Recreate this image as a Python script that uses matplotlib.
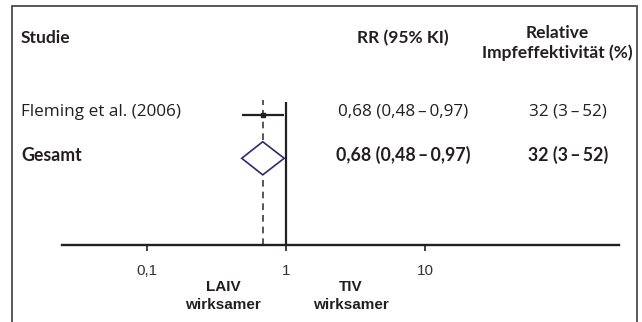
import matplotlib
matplotlib.use("Agg")
import matplotlib.pyplot as plt
from matplotlib.patches import Polygon, Rectangle

# data
studies = ["Fleming et al. (2006)"]
study_rr = [0.68]
study_lo = [0.48]
study_hi = [0.97]
study_rr_text = ["0,68 (0,48\u2009\u2013\u20090,97)"]
study_eff_text = ["32 (3\u2009\u2013\u200952)"]

pooled_label = "Gesamt"
pooled_rr = 0.68
pooled_lo = 0.48
pooled_hi = 0.97
pooled_rr_text = "0,68 (0,48\u2009\u2013\u20090,97)"
pooled_eff_text = "32 (3\u2009\u2013\u200952)"

tick_values = [0.1, 1, 10]
tick_labels = ["0,1", "1", "10"]

W, H = 642, 322
TABLE_FONT = ["Open Sans", "DejaVu Sans"]
HEAD_FONT = ["Lato", "DejaVu Sans"]
AXIS_FONT = ["Liberation Sans", "DejaVu Sans"]
INK = "#231f20"


def fx(px):
    return px / W


def fy(py):
    # pixel measured from the top
    return 1 - py / H


fig = plt.figure(figsize=(W / 100, H / 100), dpi=100)

# outer frame (runs off the bottom edge)
fig.patches.append(Rectangle((fx(12), fy(340)), fx(637) - fx(12), fy(6) - fy(340),
                             transform=fig.transFigure, fill=False,
                             edgecolor="#4a4a4a", linewidth=1.3))

# forest plot axes
ax = fig.add_axes([fx(62), fy(245), fx(619) - fx(62), fy(100) - fy(245)])
ax.set_xscale("log")
ax.set_xlim(10 ** -1.612, 10 ** 2.396)
ax.set_ylim(-0.989, 2.337)
ax.patch.set_alpha(0)
for side in ["top", "right", "left"]:
    ax.spines[side].set_visible(False)
ax.spines["bottom"].set_linewidth(1.7)
ax.spines["bottom"].set_color(INK)
ax.set_yticks([])
ax.set_xticks(tick_values)
ax.set_xticklabels(tick_labels)
ax.minorticks_off()
ax.tick_params(axis="x", length=4, width=1.2, color=INK, pad=10,
               labelsize=11, labelcolor="#333333")
for lab in ax.get_xticklabels():
    lab.set_family(AXIS_FONT)

# line of no effect and pooled estimate
ax.plot([1, 1], [-0.989, 2.29], color=INK, linewidth=1.6, solid_capstyle="butt")
ax.plot([pooled_rr, pooled_rr], [-0.989, 2.337], color="#3a3a3a", linewidth=1.2,
        linestyle=(0, (4, 3)))

# study rows
for i, (rr, lo, hi) in enumerate(zip(study_rr, study_lo, study_hi)):
    y = 2 - i
    ax.plot([lo, hi], [y, y], color=INK, linewidth=1.6, solid_capstyle="butt")
    ax.plot([rr], [y], marker="s", markersize=2.5, color=INK)

# pooled diamond
dh = 0.38
ax.add_patch(Polygon([(pooled_lo, 1), (pooled_rr, 1 + dh), (pooled_hi, 1), (pooled_rr, 1 - dh)],
                     closed=True, facecolor="white", edgecolor="#2e2b6b",
                     linewidth=1.2, zorder=3))

HEAD = 12.5
BODY = 12.3
BOLD = 12.8

# table header
fig.text(fx(21), fy(38), "Studie", fontsize=HEAD, fontweight="bold", family=HEAD_FONT,
         color=INK, va="center", ha="left")
fig.text(fx(403), fy(38), "RR (95% KI)", fontsize=HEAD, fontweight="bold", family=HEAD_FONT,
         color=INK, va="center", ha="center")
fig.text(fx(557), fy(33), "Relative", fontsize=HEAD, fontweight="bold", family=HEAD_FONT,
         color=INK, va="center", ha="center")
fig.text(fx(557), fy(53), "Impfeffektivität (%)", fontsize=HEAD, fontweight="bold",
         family=HEAD_FONT, color=INK, va="center", ha="center")

# table rows
for i, name in enumerate(studies):
    yy = 112 + i * 43
    fig.text(fx(21), fy(yy), name, fontsize=BODY, family=TABLE_FONT, color=INK,
             va="center", ha="left")
    fig.text(fx(403), fy(yy), study_rr_text[i], fontsize=BODY, family=TABLE_FONT,
             color=INK, va="center", ha="center")
    fig.text(fx(568), fy(yy), study_eff_text[i], fontsize=BODY, family=TABLE_FONT,
             color=INK, va="center", ha="center")

fig.text(fx(21), fy(155), pooled_label, fontsize=BOLD, fontweight="bold", family=HEAD_FONT,
         color=INK, va="center", ha="left")
fig.text(fx(403), fy(155), pooled_rr_text, fontsize=BOLD, fontweight="bold",
         family=HEAD_FONT, color=INK, va="center", ha="center")
fig.text(fx(568), fy(155), pooled_eff_text, fontsize=BOLD, fontweight="bold",
         family=HEAD_FONT, color=INK, va="center", ha="center")

# direction labels under the axis
for cx, word in [(223, "LAIV"), (351, "TIV")]:
    fig.text(fx(cx), fy(287), word, fontsize=11, fontweight="bold", family=AXIS_FONT,
             color=INK, va="center", ha="center")
    fig.text(fx(cx), fy(305), "wirksamer", fontsize=11, fontweight="bold", family=AXIS_FONT,
             color=INK, va="center", ha="center")

fig.savefig("out.png", dpi=100)
